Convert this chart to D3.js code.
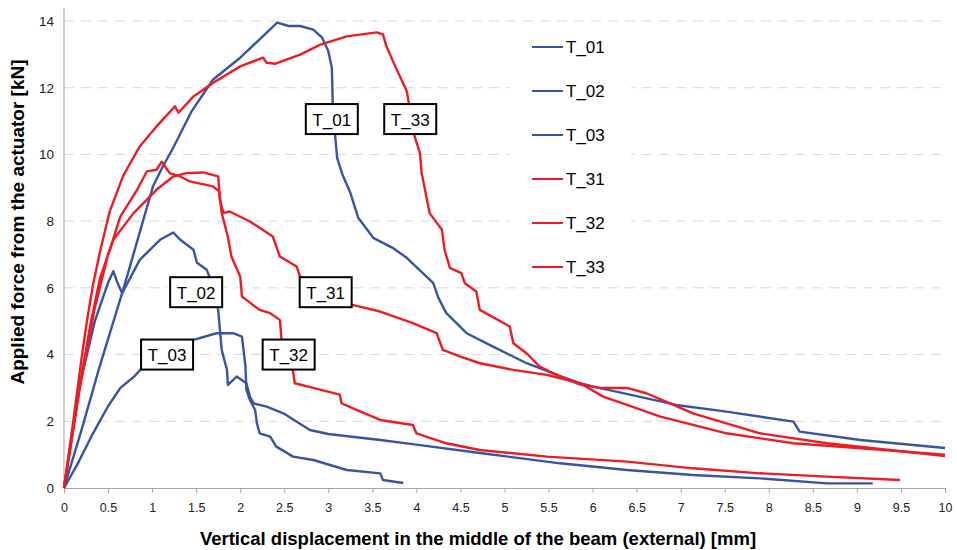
<!DOCTYPE html>
<html>
<head>
<meta charset="utf-8">
<script src="https://cdn.jsdelivr.net/npm/d3@7"></script>
<style>
  body { margin: 0; background: #fff; }
  text { font-family: "Liberation Sans", Arial, sans-serif; }
  .tick-lbl { font-family: "Liberation Sans Narrow", "Arial Narrow", "Liberation Sans", sans-serif; }
</style>
</head>
<body>
<script>
var w = 957, h = 550;

// series (displacement mm, force kN)
var T_01 = [[0,0],[0.2,1.75],[0.4,3.6],[0.66,5.84],[0.77,6.84],[1.01,9.04],[1.12,9.63],[1.24,10.2],[1.45,11.3],[1.69,12.24],[2.0,12.9],[2.2,13.4],[2.42,13.95],[2.55,13.85],[2.68,13.85],[2.83,13.74],[2.93,13.5],[3.0,13.1],[3.04,12.6],[3.05,11.55],[3.08,10.5],[3.1,9.9],[3.16,9.4],[3.25,8.85],[3.34,8.1],[3.51,7.5],[3.73,7.2],[3.89,6.9],[4.19,6.15],[4.25,5.7],[4.34,5.24],[4.57,4.64],[4.87,4.24],[5.25,3.74],[5.55,3.44],[5.86,3.14],[6.01,3.04],[6.95,2.49],[7.52,2.29],[8.28,1.99],[8.35,1.69],[9.04,1.44],[10.0,1.2]];
var T_02 = [[0,0],[0.18,3.1],[0.35,5.0],[0.5,6.15],[0.56,6.5],[0.6,6.2],[0.66,5.84],[0.86,6.84],[1.09,7.44],[1.24,7.66],[1.32,7.44],[1.47,7.14],[1.51,6.75],[1.62,6.54],[1.71,5.94],[1.75,5.34],[1.77,4.74],[1.79,4.14],[1.85,3.54],[1.86,3.09],[1.96,3.34],[2.07,3.14],[2.11,2.74],[2.15,2.54],[2.3,2.44],[2.49,2.24],[2.79,1.74],[3.0,1.62],[3.59,1.44],[4.0,1.3],[4.72,1.05],[5.63,0.74],[6.39,0.54],[7.14,0.39],[7.9,0.29],[8.66,0.14],[9.18,0.14]];
var T_03 = [[0,0],[0.15,0.7],[0.33,1.64],[0.5,2.45],[0.64,3.0],[0.8,3.35],[0.9,3.64],[1.1,4.0],[1.3,4.3],[1.47,4.44],[1.73,4.64],[1.92,4.64],[2.02,4.54],[2.06,3.64],[2.07,2.94],[2.11,2.64],[2.17,2.34],[2.19,1.94],[2.22,1.64],[2.34,1.54],[2.41,1.24],[2.6,0.94],[2.83,0.84],[3.21,0.54],[3.59,0.44],[3.62,0.24],[3.85,0.15]];
var T_31 = [[0,0],[0.18,3.0],[0.35,5.4],[0.5,7.0],[0.56,7.44],[0.79,8.24],[1.05,8.94],[1.24,9.34],[1.39,9.44],[1.58,9.46],[1.75,9.34],[1.77,8.64],[1.81,8.24],[1.88,8.29],[2.11,7.99],[2.37,7.54],[2.45,6.94],[2.64,6.64],[2.68,6.34],[3.0,5.8],[3.27,5.49],[3.59,5.29],[3.96,4.94],[4.23,4.64],[4.3,4.14],[4.5,3.94],[4.72,3.74],[5.1,3.54],[5.48,3.39],[5.86,3.14],[6.12,2.74],[6.39,2.49],[6.77,2.14],[7.14,1.89],[7.52,1.64],[8.28,1.34],[10.0,1.0]];
var T_32 = [[0,0],[0.18,3.1],[0.3,4.9],[0.41,6.3],[0.52,7.14],[0.64,8.14],[0.83,8.94],[0.94,9.49],[1.05,9.54],[1.11,9.78],[1.2,9.44],[1.32,9.34],[1.43,9.19],[1.69,9.04],[1.76,8.9],[1.79,8.24],[1.86,7.54],[1.9,6.94],[2.0,6.34],[2.02,5.74],[2.07,5.64],[2.22,5.34],[2.34,5.24],[2.45,5.04],[2.47,4.44],[2.6,3.49],[2.62,3.14],[2.83,3.0],[3.13,2.8],[3.15,2.54],[3.32,2.34],[3.59,2.04],[3.96,1.89],[4.0,1.64],[4.34,1.34],[4.72,1.14],[5.48,0.94],[6.39,0.79],[7.14,0.59],[7.9,0.44],[8.66,0.34],[9.49,0.24]];
var T_33 = [[0,0],[0.1,1.9],[0.2,3.9],[0.26,5.0],[0.33,6.1],[0.41,7.1],[0.52,8.3],[0.67,9.35],[0.86,10.24],[1.05,10.84],[1.26,11.44],[1.3,11.25],[1.47,11.74],[1.69,12.14],[2.0,12.64],[2.26,12.9],[2.3,12.75],[2.4,12.72],[2.68,12.99],[2.91,13.29],[3.21,13.54],[3.55,13.66],[3.62,13.6],[3.66,13.24],[3.76,12.64],[3.89,11.9],[3.98,10.54],[4.04,10.04],[4.06,9.44],[4.12,8.64],[4.15,8.24],[4.29,7.74],[4.32,7.14],[4.38,6.6],[4.51,6.44],[4.55,6.14],[4.68,5.89],[4.72,5.34],[5.06,4.84],[5.1,4.34],[5.25,4.04],[5.4,3.64],[5.63,3.34],[5.86,3.1],[6.08,3.0],[6.39,3.0],[6.61,2.84],[6.88,2.54],[7.14,2.24],[7.52,1.94],[7.9,1.64],[8.66,1.34],[10.0,0.96]];

var seriesNames = ['T_01', 'T_02', 'T_03', 'T_31', 'T_32', 'T_33'];
var seriesData = [T_01, T_02, T_03, T_31, T_32, T_33];
var seriesColors = ['#3953a4', '#3953a4', '#3953a4', '#ed1c24', '#ed1c24', '#ed1c24'];

var xTicks = [0, 0.5, 1, 1.5, 2, 2.5, 3, 3.5, 4, 4.5, 5, 5.5, 6, 6.5, 7, 7.5, 8, 8.5, 9, 9.5, 10];
var yTicks = [0, 2, 4, 6, 8, 10, 12, 14];

// boxed labels sitting on the curves
var noteNames = ['T_01', 'T_33', 'T_02', 'T_31', 'T_03', 'T_32'];
var noteX = [3.04, 3.93, 1.5, 2.97, 1.17, 2.55];
var noteY = [11.06, 11.06, 5.87, 5.87, 4.0, 4.0];

var xTitle = 'Vertical displacement in the middle of the beam (external) [mm]';
var yTitle = 'Applied force from the actuator [kN]';

var x = d3.scaleLinear().domain([0, 10]).range([64, 945]);
var y = d3.scaleLinear().domain([0, 14]).range([488, 21]);

var svg = d3.select('body').append('svg').attr('width', w).attr('height', h);

// grid
svg.selectAll('line.grid')
  .data(yTicks.filter(function (d) { return d > 0; }))
  .enter().append('line')
  .attr('class', 'grid')
  .attr('x1', x(0)).attr('x2', x(10))
  .attr('y1', function (d) { return y(d); })
  .attr('y2', function (d) { return y(d); })
  .style('stroke', '#d9d9d9')
  .style('stroke-width', 1)
  .style('stroke-dasharray', '10,7');

// axes
var xAxis = svg.append('g')
  .attr('transform', 'translate(0,' + y(0) + ')')
  .call(d3.axisBottom(x).tickValues(xTicks).tickSize(5).tickPadding(10).tickFormat(function (d) { return String(d); }));
xAxis.select('.domain').style('stroke', '#a6a6a6');
xAxis.selectAll('.tick line').style('stroke', '#a6a6a6');
xAxis.selectAll('.tick text').attr('class', 'tick-lbl').style('font-size', '12.5px').style('fill', '#222');

var yAxis = svg.append('g')
  .attr('transform', 'translate(' + x(0) + ',0)')
  .call(d3.axisLeft(y).tickValues(yTicks).tickSize(0).tickPadding(10).tickFormat(function (d) { return String(d); }));
yAxis.select('.domain').remove();
yAxis.selectAll('.tick text').attr('class', 'tick-lbl').style('font-size', '13.5px').style('fill', '#222');
svg.append('line')
  .attr('x1', x(0)).attr('x2', x(0))
  .attr('y1', 8).attr('y2', y(0))
  .style('stroke', '#a6a6a6');

// curves
var line = d3.line()
  .x(function (d) { return x(d[0]); })
  .y(function (d) { return y(d[1]); });

svg.append('g').selectAll('path.curve')
  .data(seriesData)
  .enter().append('path')
  .attr('class', 'curve')
  .attr('d', line)
  .style('fill', 'none')
  .style('stroke', function (d, i) { return seriesColors[i]; })
  .style('stroke-width', 2.4)
  .style('stroke-linejoin', 'round');

// legend
var legend = svg.append('g');
legend.append('rect')
  .attr('x', 509).attr('y', 25).attr('width', 122).attr('height', 257)
  .style('fill', '#fff');
seriesNames.forEach(function (name, i) {
  var ly = 47 + i * 44;
  legend.append('line')
    .attr('x1', 532).attr('x2', 563)
    .attr('y1', ly).attr('y2', ly)
    .style('stroke', seriesColors[i])
    .style('stroke-width', 2);
  legend.append('text')
    .attr('x', 566).attr('y', ly + 6)
    .style('font-size', '17px')
    .text(name);
});

// boxed notes
var notes = svg.append('g').selectAll('g.note')
  .data(noteNames)
  .enter().append('g')
  .attr('class', 'note')
  .attr('transform', function (d, i) { return 'translate(' + x(noteX[i]) + ',' + y(noteY[i]) + ')'; });
notes.append('rect')
  .attr('x', -26).attr('y', -15).attr('width', 52).attr('height', 30)
  .style('fill', '#fff')
  .style('stroke', '#000')
  .style('stroke-width', 2);
notes.append('text')
  .attr('text-anchor', 'middle')
  .attr('y', 6.5)
  .style('font-size', '17px')
  .text(function (d) { return d; });

// titles
svg.append('text')
  .attr('x', 478).attr('y', 545)
  .attr('text-anchor', 'middle')
  .style('font-size', '18.5px')
  .style('font-weight', 'bold')
  .text(xTitle);

svg.append('text')
  .attr('transform', 'translate(24,222) rotate(-90)')
  .attr('text-anchor', 'middle')
  .style('font-size', '19px')
  .style('font-weight', 'bold')
  .text(yTitle);
</script>
</body>
</html>
